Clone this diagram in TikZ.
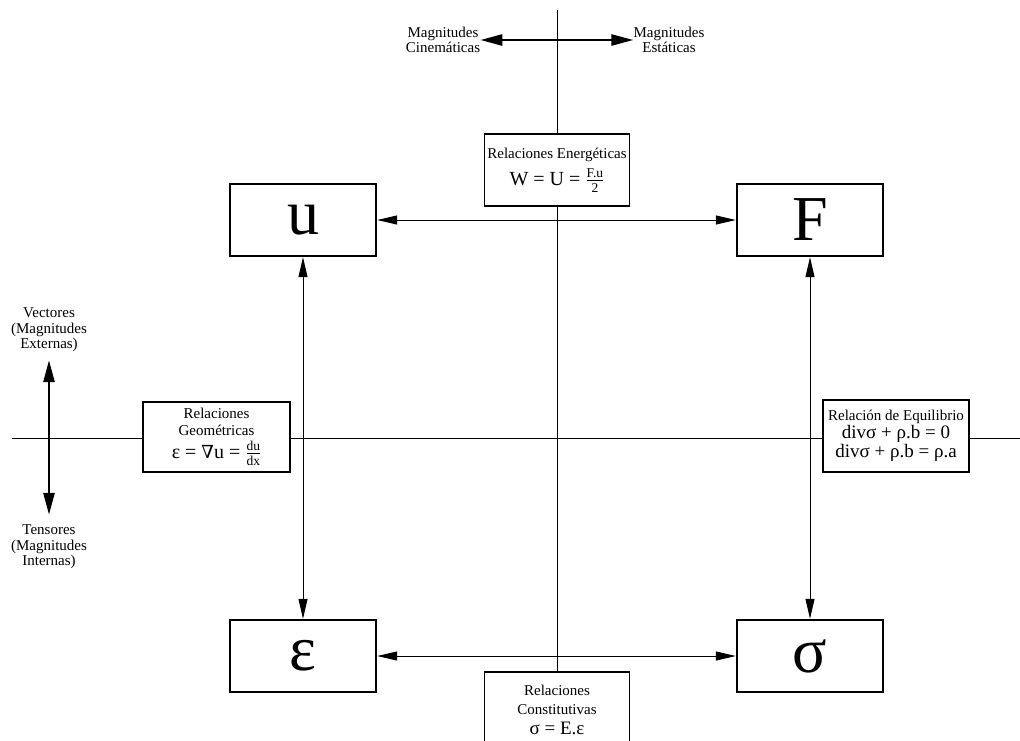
\documentclass[tikz,border=0pt]{standalone}
\usepackage{fontspec}
\setmainfont{Liberation Serif}
\newfontfamily\nablafont{DejaVu Serif}
\usetikzlibrary{arrows.meta}
\newcommand{\myfrac}[2]{\ensuremath{\frac{\hbox{\fontsize{13.5}{13.5}\selectfont #1}}{\hbox{\fontsize{13.5}{13.5}\selectfont #2}}}}
\begin{document}
\begin{tikzpicture}[x=1pt,y=-1pt,
  mainbox/.style={draw, line width=2.4pt, fill=white, minimum width=146pt, minimum height=72pt, inner sep=0pt, font=\fontsize{64}{64}\selectfont},
  relbox/.style={draw, line width=1.3pt, fill=white, inner sep=0pt, minimum width=146pt, minimum height=71pt, align=center, font=\fontsize{15}{17}\selectfont},
  conn/.style={line width=1pt, {Triangle[length=20pt,width=9pt]}-{Triangle[length=20pt,width=9pt]}},
  bigarrow/.style={line width=2.6pt, {Triangle[length=22pt,width=11pt]}-{Triangle[length=22pt,width=11pt]}},
  axis/.style={line width=1pt},
  lbl/.style={align=center, font=\fontsize{15}{15.5}\selectfont, inner sep=0pt}]
\useasboundingbox (0,0) rectangle (1020,740);
\clip (0,0) rectangle (1020,740);
\fill[white] (0,0) rectangle (1020,740);
% axes
\coordinate (vtop) at (557,10);
\coordinate (vbot) at (557,745);
\coordinate (hl) at (12,438);
\coordinate (hr) at (1025,438);
\draw[axis] (vtop) -- (vbot);
\draw[axis] (hl) -- (hr);
% main boxes
\node[mainbox] (u) at (303,220) {u};
\node[mainbox] (F) at (810,220) {F};
\node[mainbox] (e) at (303,656) {ε};
\node[mainbox] (s) at (810,656) {σ};
% relation boxes
\node[relbox, minimum width=145pt, minimum height=72pt] (energy) at (557,170)
  {Relaciones Energéticas\\[6pt]{\fontsize{20}{20}\selectfont W = U = \myfrac{F.u}{2}}};
\node[relbox, minimum width=147pt, minimum height=70pt] (geom) at (216.5,437)
  {Relaciones\\Geométricas\\[4pt]{\fontsize{20}{20}\selectfont ε = {\nablafont\fontsize{18}{18}\selectfont ∇}u = \myfrac{du}{dx}}};
\node[relbox, minimum width=146pt, minimum height=72pt] (equil) at (896,436)
  {Relación de Equilibrio\\[1pt]{\fontsize{19}{19}\selectfont divσ + ρ.b = 0}\\[1pt]{\fontsize{19}{19}\selectfont divσ + ρ.b = ρ.a}};
\node[relbox, minimum width=145pt, minimum height=76pt] (const) at (557,710)
  {Relaciones\\[2pt]Constitutivas\\[3pt]{\fontsize{19}{19}\selectfont σ = E.ε}};
% connectors
\draw[conn] (u) -- (F);
\draw[conn] (e) -- (s);
\draw[conn] (u) -- (e);
\draw[conn] (F) -- (s);
% top labels
\node[lbl] (cin) at (443,40) {Magnitudes\\Cinemáticas};
\node[lbl] (est) at (669,40) {Magnitudes\\Estáticas};
\draw[bigarrow] (cin) -- (est);
% left labels
\node[lbl] (vec) at (49,330) {Vectores\\(Magnitudes\\Externas)};
\node[lbl] (ten) at (49,547) {Tensores\\(Magnitudes\\Internas)};
\draw[bigarrow, shorten <=8pt, shorten >=10pt] (vec) -- (ten);
\end{tikzpicture}
\end{document}
